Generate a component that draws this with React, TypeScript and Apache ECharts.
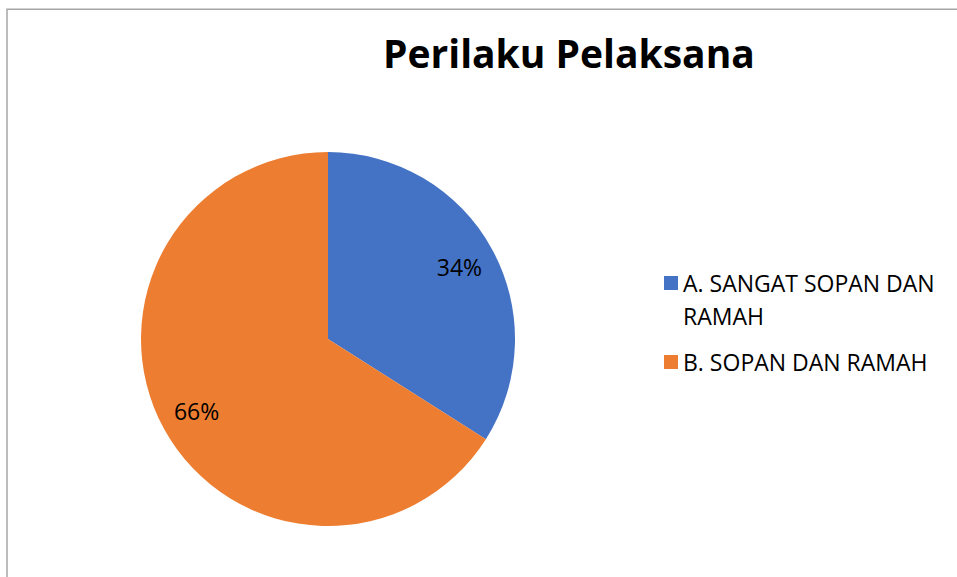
import React, { useEffect, useRef } from "react";
import * as echarts from "echarts";

const titleText = "Perilaku Pelaksana";
const categories = ["A. SANGAT SOPAN DAN RAMAH", "B. SOPAN DAN RAMAH"];
const legendLabels = ["\nA. SANGAT SOPAN DAN\nRAMAH", "B. SOPAN DAN RAMAH"];
const values = [34, 66];
const colors = ["#4472C4", "#ED7D31"];

export default function App() {
  const ref = useRef<HTMLDivElement>(null);
  useEffect(() => {
    if (!ref.current) return;
    const chart = echarts.init(ref.current, null, { renderer: "svg" });
    const data = categories.map((name, i) => ({
      name,
      value: values[i],
      itemStyle: { color: colors[i] },
    }));
    const labelMap: Record<string, string> = {};
    categories.forEach((c, i) => (labelMap[c] = legendLabels[i]));
    chart.setOption({
      animation: false,
      backgroundColor: "#ffffff",
      title: {
        text: titleText,
        left: 378,
        top: 28,
        textStyle: {
          fontFamily: "Open Sans",
          fontWeight: "bold",
          fontSize: 39,
          color: "#000000",
        },
      },
      graphic: [
        {
          type: "rect",
          shape: { x: 7, y: 9.3, width: 2000, height: 2000 },
          style: { fill: "none", stroke: "#a6a6a6", lineWidth: 1.5 },
          silent: true,
        },
      ],
      legend: {
        orient: "vertical",
        left: 659,
        top: 228.5,
        itemWidth: 14,
        itemHeight: 14,
        itemGap: 13,
        icon: "rect",
        formatter: (name: string) => labelMap[name] || name,
        textStyle: {
          fontFamily: "Open Sans",
          fontSize: 23,
          lineHeight: 33,
          color: "#000000",
        },
        data: categories,
      },
      series: [
        {
          type: "pie",
          center: [328, 339],
          radius: [0, 187],
          startAngle: 90,
          clockwise: true,
          label: { show: false },
          labelLine: { show: false },
          emphasis: { disabled: true },
          itemStyle: { borderWidth: 0 },
          data,
        },
        {
          type: "pie",
          center: [328, 339],
          radius: [107, 187],
          startAngle: 90,
          clockwise: true,
          silent: true,
          emphasis: { disabled: true },
          itemStyle: { color: "rgba(0,0,0,0)", borderWidth: 0 },
          label: {
            show: true,
            position: "inside",
            formatter: "{d}%",
            fontFamily: "Open Sans",
            fontSize: 23,
            color: "#000000",
          },
          labelLine: { show: false },
          data: categories.map((name, i) => ({
            name,
            value: values[i],
            itemStyle: { color: "rgba(0,0,0,0)" },
          })),
        },
      ],
    });
    return () => chart.dispose();
  }, []);
  return (
    <div
      ref={ref}
      style={{ position: "absolute", left: 0, top: 0, width: 957, height: 577 }}
    />
  );
}
